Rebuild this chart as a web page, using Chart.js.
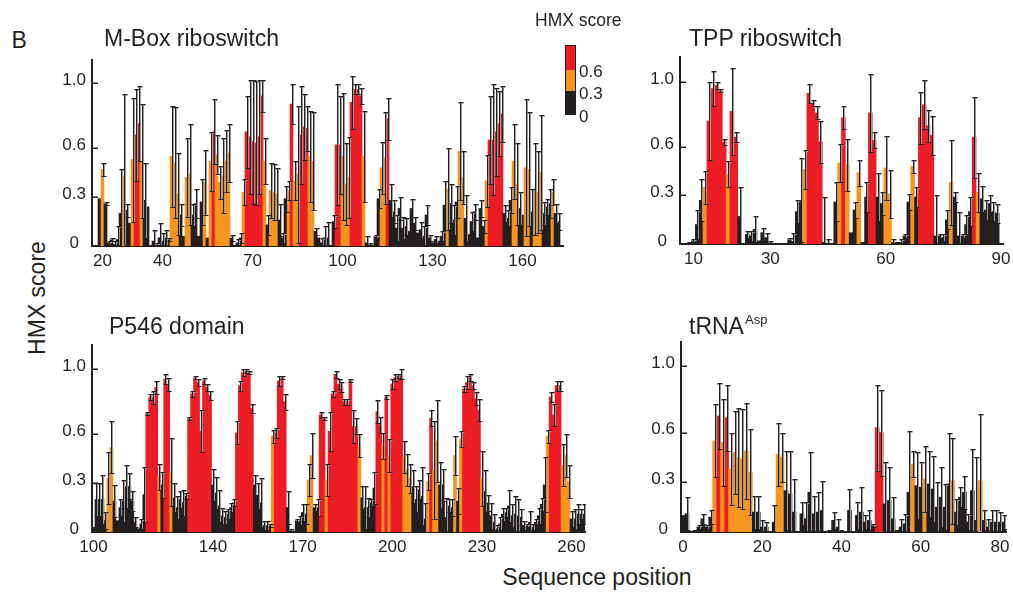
<!DOCTYPE html>
<html>
<head>
<meta charset="utf-8">
<title>HMX score</title>
<script src="https://cdn.jsdelivr.net/npm/chart.js"></script>
<style>
  body { margin: 0; background: #fff; }
  #fig { position: relative; width: 1013px; height: 596px; overflow: hidden;
         font-family: 'Liberation Sans', Arial, Helvetica, sans-serif; color: #231f20; }
  #fig canvas { position: absolute; }
  .txt { position: absolute; white-space: nowrap; line-height: 1; }
  .big { font-size: 23px; }
  .cbar { position: absolute; left: 565px; width: 9px; border: 1.5px solid #231f20; }
</style>
</head>
<body>
<div id="fig">
  <canvas id="mbox" width="515" height="224" style="left:52px; top:50px;"></canvas>
  <canvas id="tpp" width="373" height="225" style="left:640px; top:47px;"></canvas>
  <canvas id="p546" width="540" height="225" style="left:52px; top:335px;"></canvas>
  <canvas id="trna" width="371" height="228" style="left:641px; top:332px;"></canvas>

  <div class="txt big" style="left:11.5px; top:28.5px;">B</div>
  <div class="txt big" style="left:104px; top:26.5px;">M-Box riboswitch</div>
  <div class="txt big" style="left:689px; top:26.5px;">TPP riboswitch</div>
  <div class="txt big" style="left:109px; top:314.5px;">P546 domain</div>
  <div class="txt big" style="left:689px; top:314.5px;">tRNA</div>
  <div class="txt" style="left:745px; top:313px; font-size:13px;">Asp</div>

  <div class="txt big" style="left:37px; top:298px; transform: translate(-50%, -50%) rotate(-90deg);">HMX score</div>
  <div class="txt big" style="left:597px; top:565.5px; transform: translateX(-50%);">Sequence position</div>

  <!-- colour key -->
  <div class="txt" style="left:535px; top:12px; font-size:17.5px;">HMX score</div>
  <div class="cbar" style="top:45px; height:25px; background:#ed1c24;"></div>
  <div class="cbar" style="top:70px; height:21px; background:#f7941d; border-top:none;"></div>
  <div class="cbar" style="top:92px; height:22px; background:#231f20; border-top:none;"></div>
  <div class="txt" style="left:579px; top:62.5px; font-size:17px;">0.6</div>
  <div class="txt" style="left:579px; top:84.8px; font-size:17px;">0.3</div>
  <div class="txt" style="left:579px; top:107.5px; font-size:17px;">0</div>
</div>

<script>
// y axis ticks shared by the four panels
const yTicks = [0, 0.3, 0.6, 1.0];

// M-Box riboswitch, positions 17..173
const mboxStart = 17;
const mboxTicks = [20, 40, 70, 100, 130, 160];
const mboxValues = [0,0,0.29,0.47,0.26,0.02,0.04,0.01,0.04,0.20,0.43,0.22,0.14,0.53,0.68,0.75,0.52,0.28,0.24,0,
  0.03,0.01,0.05,0.03,0.05,0.04,0.55,0.51,0.32,0.19,0.06,0.42,0.44,0.19,0.26,0.06,0.27,0.39,0.05,0.52,
  0.70,0.56,0.39,0.43,0.52,0.57,0.05,0,0.02,0.05,0.33,0.70,0.67,0.64,0.63,0.67,0.92,0.52,0.13,0.34,
  0.33,0.32,0.16,0.05,0.29,0.34,0.87,0.40,0.44,0.68,0.73,0.72,0.55,0.52,
  0.09,0.05,0.02,0.05,0.05,0,0.15,0.62,0.62,0.55,0.38,0.42,0.88,0.96,0.96,0.92,0.55,0.02,0.01,0,
  0.06,0.29,0.48,0.54,0.78,0.28,0.21,0.11,0.23,0.11,0.12,0.09,0.23,0.14,0.08,0.1,0.06,0.19,0.05,0.02,
  0.04,0.03,0.06,0.25,0.35,0.26,0.16,0.27,0.58,0.42,0.17,0.07,0.15,0.21,0.05,0.23,0.12,0.4,0.65,0.65,
  0.7,0.75,0.81,0.2,0.17,0.28,0.52,0.38,0.23,0.19,0.48,0.47,0.21,0.35,0.33,0.45,0.2,0.24,0.26,0.33,
  0.2,0.15,0];
const mboxErrors = [0,0,0,0.04,0.01,0.01,0.01,0.02,0.08,0.27,0.5,0.04,0,0.38,0.28,0.23,0.35,0.23,0,0,
  0.07,0.01,0.09,0.05,0.05,0.01,0.31,0.34,0.25,0.07,0,0.24,0.31,0.07,0.09,0,0.14,0.2,0,0.18,
  0.2,0.12,0.1,0.23,0.19,0.18,0.02,0,0.02,0.03,0.08,0.22,0.35,0.38,0.38,0.35,0.1,0.14,0.06,0.17,
  0.17,0.16,0.1,0.03,0.08,0.06,0.12,0.12,0.42,0.3,0.2,0.14,0.28,0.3,
  0.02,0,0.03,0.07,0.1,0,0.04,0.37,0.3,0.39,0.25,0.25,0.16,0.03,0.03,0.05,0.28,0.04,0.01,0,
  0.01,0.06,0.16,0.28,0.13,0.1,0.07,0.08,0.07,0.07,0.05,0,0.06,0.04,0,0.05,0.06,0.06,0.02,0,
  0.02,0,0.03,0.15,0.25,0.12,0.09,0.1,0.3,0.16,0.14,0,0.06,0.05,0,0.05,0.04,0.16,0.27,0.34,
  0.27,0.2,0.17,0.05,0.05,0.08,0.23,0.25,0.1,0,0.42,0.35,0.14,0.28,0.25,0.35,0.07,0.05,0.09,0.08,
  0.06,0.05,0];

// TPP riboswitch, positions 7..90
const tppStart = 7;
const tppTicks = [10, 30, 60, 90];
const tppValues = [0,0,0.01,0.02,0.12,0.27,0.35,0.76,0.96,0.98,0.95,0.63,0.43,0.82,0.66,0.17,0,0.06,0.05,0.09,
  0.02,0.07,0.04,0.01,0,0,0,0,0.03,0.01,0.2,0.27,0.46,0.93,0.87,0.81,0.63,0.01,0,0,
  0.26,0.5,0.78,0.49,0.07,0.21,0.44,0.01,0.29,0.81,0.64,0.29,0.25,0.47,0.31,0.01,0,0.01,0.05,0.26,
  0.48,0.29,0.78,0.86,0.73,0.67,0.05,0.05,0.04,0.15,0.38,0.29,0.05,0.05,0.12,0.2,0.66,0.32,0.28,0.21,
  0.25,0.2,0.19,0];
const tppErrors = [0,0,0,0.01,0.09,0.13,0.1,0.24,0.11,0.02,0.01,0.02,0.08,0.27,0.03,0.18,0,0.02,0.03,0.08,
  0,0.03,0.03,0.01,0,0,0,0,0.01,0.06,0.07,0.26,0.12,0.06,0.02,0.04,0.13,0.28,0.03,0,
  0.12,0.12,0.07,0.16,0,0.05,0.08,0,0.09,0.24,0.05,0.15,0.07,0.2,0.15,0.02,0.01,0.02,0.01,0.05,
  0.04,0.06,0.16,0.15,0.1,0.12,0.25,0.01,0.02,0.06,0.26,0.03,0.15,0.01,0.06,0.09,0.25,0.12,0.08,0.06,
  0.05,0.06,0.06,0];

// P546 domain, positions 100..264
const p546Start = 100;
const p546Ticks = [100, 140, 170, 200, 230, 260];
const p546Values = [0.03,0.2,0.2,0.2,0.07,0.33,0.52,0.19,0.07,0.15,0.19,0.28,0.28,0.19,0.06,0.02,0.05,0.23,0.73,0.83,
  0.83,0.89,0.34,0.29,0.94,0.91,0.37,0.21,0.15,0.2,0.18,0.22,0.7,0.85,0.95,0.92,0.62,0.93,0.89,0.84,
  0.29,0.24,0.16,0.1,0.09,0.11,0.15,0.18,0.61,0.9,0.98,0.99,0.98,0.76,0.29,0.22,0.18,0.04,0.04,0.04,
  0.59,0.61,0.93,0.95,0.8,0.15,0.01,0,0.07,0.07,0.12,0.11,0.32,0.47,0.15,0.15,0.72,0.7,
  0.32,0.62,0.85,0.97,0.91,0.89,0.8,0.8,0.93,0.65,0.65,0.53,0.21,0.15,0.15,0.18,0.27,0.74,0.66,0.53,
  0.83,0.47,0.91,0.95,0.96,0.97,0.46,0.38,0.33,0.28,0.2,0.26,0.22,0.08,0.31,0.7,0.38,0.56,0.29,0.29,
  0.09,0.16,0.15,0.47,0.19,0.57,0.88,0.92,0.95,0.9,0.82,0.75,0.33,0.25,0.18,0.1,0.06,0.02,0.05,0.11,
  0.12,0.16,0.1,0.11,0.1,0.09,0.04,0.04,0.06,0.03,0.06,0.1,0.17,0.29,0.59,0.83,0.72,0.9,0.9,0.41,
  0.47,0.31,0.08,0.08,0.11,0.11,0.11];
const p546Errors = [0,0.1,0.1,0.15,0.05,0.16,0.16,0.1,0,0.05,0.13,0.13,0.08,0.06,0.03,0,0.03,0.17,0.01,0.02,
  0.04,0.04,0.08,0.08,0.03,0.04,0.21,0.09,0.07,0.05,0.08,0.02,0.01,0.02,0.01,0.02,0.13,0.02,0.02,0.03,
  0.1,0.1,0.1,0.05,0.04,0.03,0.03,0.02,0.07,0.03,0.02,0.01,0.01,0.03,0.06,0.08,0.15,0.03,0.03,0.01,
  0.04,0.03,0.03,0.01,0.05,0.1,0.01,0,0.01,0.03,0.05,0.06,0.1,0.14,0.02,0.05,0.02,0.01,
  0.1,0.12,0.02,0.02,0.03,0.03,0.02,0.02,0.01,0.1,0.05,0.07,0.07,0.13,0.06,0.02,0.1,0.07,0.05,0.08,
  0.01,0.1,0.03,0.02,0.01,0.03,0.1,0.1,0.09,0.1,0.08,0.06,0.18,0.1,0.05,0.05,0.3,0.25,0.14,0.1,
  0.12,0.04,0.05,0.12,0.08,0.05,0.02,0.04,0.02,0.02,0.04,0.07,0.17,0.13,0.05,0.08,0.05,0.02,0.04,0.04,
  0.03,0.1,0.07,0.11,0.1,0.05,0.03,0.01,0.07,0.02,0.02,0.05,0.04,0.17,0.04,0.03,0.07,0.03,0.03,0.13,
  0.13,0.1,0.05,0.06,0.06,0.03,0.06];

// tRNA-Asp, positions 0..81
const trnaStart = 0;
const trnaTicks = [0, 20, 40, 60, 80];
const trnaValues = [0.1,0.11,0,0.01,0.03,0.08,0.03,0.09,0.55,0.7,0.54,0.69,0.38,0.48,0.45,0.44,0.49,0.36,0.12,0.12,
  0.03,0.03,0,0.06,0.47,0.45,0.25,0.23,0.12,0,0.11,0.08,0.24,0.11,0.12,0.13,0,0.01,0.07,0.03,
  0.01,0,0.13,0,0.1,0.12,0.06,0.07,0.04,0.63,0.6,0.17,0.19,0.08,0.01,0.03,0.05,0.24,0.41,0.28,
  0.27,0.32,0.29,0.26,0.15,0.21,0.15,0.29,0.31,0.12,0.21,0.24,0.06,0.25,0.07,0.31,0.07,0.03,0.06,0.06,
  0.06,0.06];
const trnaErrors = [0,0.1,0,0,0.01,0.03,0.01,0.04,0.22,0.2,0.26,0.2,0.22,0.25,0.3,0.3,0.29,0.26,0.1,0.1,
  0.04,0.03,0,0.1,0.19,0.15,0.24,0.26,0.2,0,0.07,0.1,0.24,0.11,0.12,0.18,0,0,0.05,0.05,
  0,0,0.13,0,0.08,0.15,0.04,0.06,0.01,0.26,0.26,0.25,0.2,0.13,0,0.05,0.06,0.37,0.08,0.2,
  0.15,0.2,0.2,0.2,0.15,0.18,0.14,0.31,0.26,0.08,0.06,0.1,0.05,0.25,0.38,0.4,0.06,0.05,0.07,0.07,
  0.06,0.04];

const RED = '#ed1c24', ORANGE = '#f7941d', DARK = '#231f20', GREY = '#9b9b9b';
Chart.defaults.font.family = "'Liberation Sans', Arial, Helvetica, sans-serif";

function barColor(v) {
  if (v >= 0.6) return RED;
  if (v >= 0.3) return ORANGE;
  return DARK;
}

// error bars drawn through the y scale, clipped to the plot area
function errorPlugin(errors) {
  return {
    id: 'errorBars',
    afterDatasetsDraw(chart) {
      const ctx = chart.ctx, y = chart.scales.y, a = chart.chartArea;
      const vals = chart.data.datasets[0].data;
      ctx.save();
      ctx.beginPath();
      ctx.rect(a.left + 1, a.top - 3, a.right - a.left, a.bottom - a.top + 2);
      ctx.clip();
      ctx.lineWidth = 1;
      chart.getDatasetMeta(0).data.forEach((bar, i) => {
        const e = errors[i];
        if (!e) return;
        const x = Math.round(bar.x);
        const top = Math.round(y.getPixelForValue(vals[i] + e));
        const low = vals[i] - e;
        const bot = Math.round(y.getPixelForValue(Math.max(0, low)));
        ctx.strokeStyle = GREY;
        ctx.beginPath();
        ctx.moveTo(x + 1.5, top); ctx.lineTo(x + 1.5, bot);
        ctx.moveTo(x - 1.5, top + 1.5); ctx.lineTo(x + 3.5, top + 1.5);
        ctx.stroke();
        ctx.strokeStyle = DARK;
        ctx.beginPath();
        ctx.moveTo(x + 0.5, top); ctx.lineTo(x + 0.5, bot);
        ctx.moveTo(x - 1.5, top + 0.5); ctx.lineTo(x + 3.5, top + 0.5);
        if (low > 0) { ctx.moveTo(x - 1.5, bot + 0.5); ctx.lineTo(x + 3.5, bot + 0.5); }
        ctx.stroke();
      });
      ctx.restore();
    }
  };
}

// short inward tick marks on the y axis
const yTickMarks = {
  id: 'yTickMarks',
  afterDraw(chart) {
    const ctx = chart.ctx, y = chart.scales.y, a = chart.chartArea;
    ctx.save();
    ctx.strokeStyle = DARK;
    ctx.lineWidth = 1.5;
    ctx.beginPath();
    yTicks.slice(1).forEach(v => {
      const py = Math.round(y.getPixelForValue(v)) + 0.25;
      ctx.moveTo(a.left, py); ctx.lineTo(a.left + 6, py);
    });
    ctx.stroke();
    ctx.restore();
  }
};

function drawPanel(id, start, values, errors, ticks, yMax, padRight) {
  const labels = values.map((v, i) => start + i);
  return new Chart(document.getElementById(id), {
    type: 'bar',
    data: {
      labels: labels,
      datasets: [{
        data: values,
        backgroundColor: values.map(barColor),
        borderWidth: 0,
        barPercentage: 1,
        categoryPercentage: 1
      }]
    },
    options: {
      responsive: false,
      animation: false,
      devicePixelRatio: 1,
      layout: { padding: { top: 10, right: padRight, left: 0, bottom: 0 } },
      plugins: { legend: { display: false }, tooltip: { enabled: false } },
      scales: {
        x: {
          grid: { display: false, drawTicks: false },
          border: { color: DARK, width: 2 },
          ticks: {
            autoSkip: false, maxRotation: 0, minRotation: 0, padding: 5,
            color: DARK, font: { size: 17 },
            callback: function (v) {
              const p = this.getLabelForValue(v);
              return ticks.includes(p) ? String(p) : '';
            }
          },
          afterFit(s) { s.height = 28; s.paddingLeft = 0; s.paddingRight = 0; }
        },
        y: {
          min: 0, max: yMax,
          grid: { display: false, drawTicks: false },
          border: { color: DARK, width: 2 },
          afterBuildTicks(s) { s.ticks = yTicks.map(v => ({ value: v })); },
          ticks: {
            padding: 6, crossAlign: 'center', labelOffset: -3, color: DARK, font: { size: 17 },
            callback: v => (v === 0 ? '0' : v.toFixed(1))
          },
          afterFit(s) { s.width = 40; s.paddingTop = 0; s.paddingBottom = 0; }
        }
      }
    },
    plugins: [errorPlugin(errors), yTickMarks]
  });
}

drawPanel('mbox', mboxStart, mboxValues, mboxErrors, mboxTicks, 1.14, 4);
drawPanel('tpp', tppStart, tppValues, tppErrors, tppTicks, 1.155, 10);
drawPanel('p546', p546Start, p546Values, p546Errors, p546Ticks, 1.15, 7);
drawPanel('trna', trnaStart, trnaValues, trnaErrors, trnaTicks, 1.147, 6);
</script>
</body>
</html>
